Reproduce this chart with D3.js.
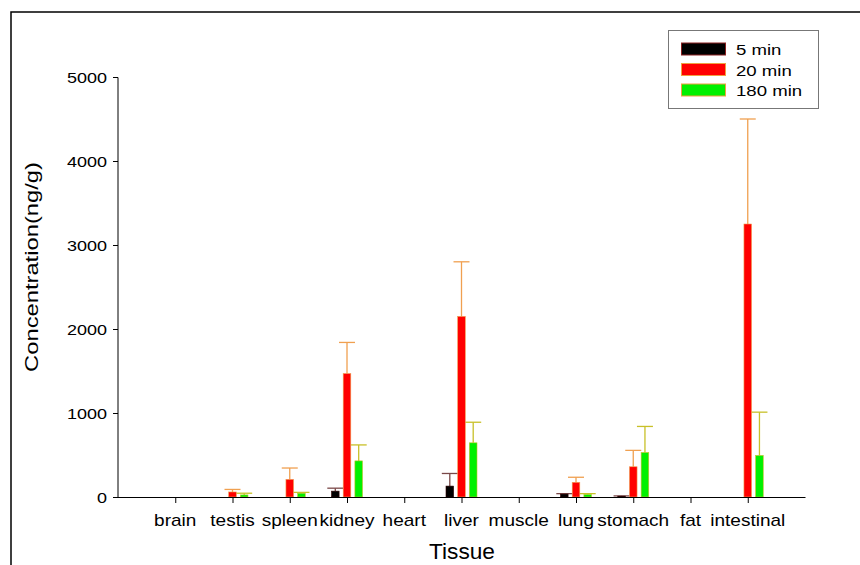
<!DOCTYPE html>
<html>
<head>
<meta charset="utf-8">
<script src="https://cdn.jsdelivr.net/npm/d3@7"></script>
<style>
    body { margin: 0; background: #fff; }
    text { font-family: Arial, "Liberation Sans", sans-serif; fill: #000; }
</style>
</head>
<body>
<div id="chart"></div>
<script>

// tissues on the x axis
let tissues = ["brain", "testis", "spleen", "kidney", "heart", "liver", "muscle", "lung", "stomach", "fat", "intestinal"];

// legend / series names
let seriesNames = ["5 min", "20 min", "180 min"];

// mean concentration (ng/g)
let min5 = [0, 0, 0, 70, 0, 130, 0, 35, 10, 0, 0];
let min20 = [0, 60, 210, 1470, 0, 2150, 0, 175, 360, 0, 3250];
let min180 = [0, 25, 45, 430, 0, 645, 0, 30, 530, 0, 495];

// upper error (SD)
let sd5 = [0, 0, 0, 35, 0, 150, 0, 5, 3, 0, 0];
let sd20 = [0, 30, 135, 370, 0, 650, 0, 60, 195, 0, 1250];
let sd180 = [0, 20, 10, 190, 0, 245, 0, 10, 310, 0, 515];

let yTicks = [0, 1000, 2000, 3000, 4000, 5000];

let barColors = ["#000000", "#ff0000", "#00f000"];
let errColors = ["#7a4848", "#f0a050", "#c8c028"];

let width = 860, height = 565;
let svg = d3.select("#chart").append("svg")
    .attr("width", width)
    .attr("height", height);

// outer frame (only top + left visible)
svg.append("path")
    .attr("d", "M11,565 V12 H860")
    .attr("fill", "none")
    .attr("stroke", "#000")
    .attr("stroke-width", 1.5);

// scales
let x = d3.scaleLinear().domain([0, tissues.length + 1]).range([118, 805]);
let y = d3.scaleLinear().domain([0, 5000]).range([497, 77]);
let xSub = d3.scaleBand().domain(seriesNames).range([-15.5, 15.5]).paddingInner(0.35);

// y axis
let yAxis = svg.append("g")
    .attr("transform", "translate(118,0)")
    .call(d3.axisLeft(y).tickValues(yTicks).tickSize(5).tickPadding(6).tickFormat(d3.format("d")));
yAxis.select(".domain").attr("stroke", "#000").attr("d", "M-5,77.5H0V497.5H-5");
yAxis.selectAll("text")
    .style("font-size", "15px")
    .attr("font-family", null)
    .attr("transform", "scale(1.2,1)")
    .attr("x", -11 / 1.2)
    .attr("dy", "0.36em");

// x axis
let xAxis = svg.append("g")
    .attr("transform", "translate(0,497)")
    .call(d3.axisBottom(x).tickValues(d3.range(1, tissues.length + 1)).tickSize(6).tickSizeOuter(0).tickFormat(""));
xAxis.select(".domain").attr("stroke", "#000");

// category labels
svg.append("g").selectAll("text")
    .data(tissues)
    .enter()
    .append("text")
    .attr("transform", (d, i) => "translate(" + x(i + 1) + ",526) scale(1.12,1)")
    .attr("text-anchor", "middle")
    .style("font-size", "17px")
    .text(d => d);

// axis titles
svg.append("text")
    .attr("transform", "translate(462,559) scale(1.03,1)")
    .attr("text-anchor", "middle")
    .style("font-size", "22px")
    .text("Tissue");

svg.append("text")
    .attr("transform", "translate(38,267) rotate(-90) scale(1.32,1)")
    .attr("text-anchor", "middle")
    .style("font-size", "18px")
    .text("Concentration(ng/g)");

// bars + error bars
let means = [min5, min20, min180];
let sds = [sd5, sd20, sd180];
let barData = [];
seriesNames.forEach((s, k) => {
    tissues.forEach((t, i) => {
        barData.push({series: s, k: k, i: i, value: means[k][i], sd: sds[k][i]});
    });
});
let shown = barData.filter(d => d.value > 0);

let bw = xSub.bandwidth();

// error lines first, bars drawn over them
let errG = svg.append("g");
errG.selectAll("line.stem")
    .data(shown.filter(d => d.sd > 0))
    .enter()
    .append("line")
    .attr("x1", d => x(d.i + 1) + xSub(d.series) + bw / 2)
    .attr("x2", d => x(d.i + 1) + xSub(d.series) + bw / 2)
    .attr("y1", d => y(d.value))
    .attr("y2", d => y(d.value + d.sd))
    .attr("stroke", d => errColors[d.k])
    .attr("stroke-width", 1.3);
errG.selectAll("line.cap")
    .data(shown.filter(d => d.sd > 0))
    .enter()
    .append("line")
    .attr("x1", d => x(d.i + 1) + xSub(d.series) + bw / 2 - 8)
    .attr("x2", d => x(d.i + 1) + xSub(d.series) + bw / 2 + 8)
    .attr("y1", d => y(d.value + d.sd))
    .attr("y2", d => y(d.value + d.sd))
    .attr("stroke", d => errColors[d.k])
    .attr("stroke-width", 1.3);

svg.append("g").selectAll("rect")
    .data(shown)
    .enter()
    .append("rect")
    .attr("x", d => x(d.i + 1) + xSub(d.series))
    .attr("y", d => y(d.value))
    .attr("width", bw)
    .attr("height", d => y(0) - y(d.value))
    .attr("fill", d => barColors[d.k])
    .attr("stroke", d => d.k === 0 ? "#300000" : errColors[d.k])
    .attr("stroke-width", 0.6);

// redraw baseline on top
svg.append("line")
    .attr("x1", 118).attr("x2", 805)
    .attr("y1", 497.5).attr("y2", 497.5)
    .attr("stroke", "#000");

// legend
let legend = svg.append("g");
legend.append("rect")
    .attr("x", 668.5).attr("y", 30.5)
    .attr("width", 150).attr("height", 78)
    .attr("fill", "#fff")
    .attr("stroke", "#777");

let lg = legend.selectAll("g.item")
    .data(seriesNames)
    .enter()
    .append("g")
    .attr("transform", (d, i) => "translate(0," + (55 + i * 20.5) + ")");
lg.append("rect")
    .attr("x", 681.5).attr("y", -12)
    .attr("width", 44).attr("height", 12)
    .attr("fill", (d, i) => barColors[i])
    .attr("stroke", (d, i) => i === 0 ? "#8a2020" : "#f0a040")
    .attr("stroke-width", 1);
lg.append("text")
    .attr("transform", "translate(736,0) scale(1.2,1)")
    .style("font-size", "15.5px")
    .text(d => d);

</script>
</body>
</html>
